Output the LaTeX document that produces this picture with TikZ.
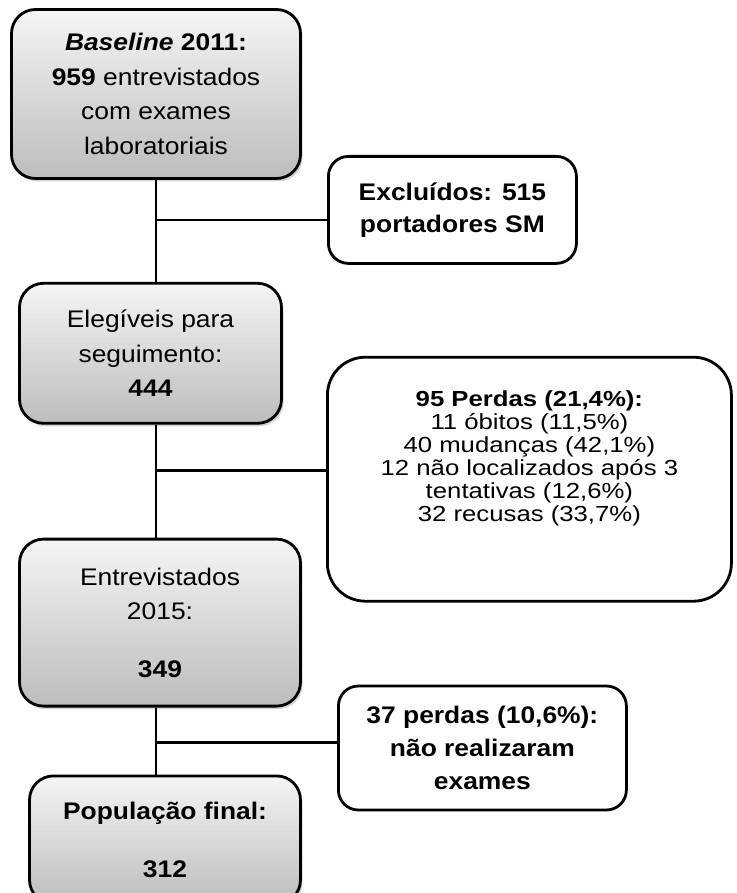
\documentclass[tikz,border=0pt]{standalone}
\usepackage{fontspec}
\setmainfont{Liberation Sans}[FakeStretch=1.1]
\newfontfamily\widefont{Liberation Sans}[FakeStretch=1.18]
\usetikzlibrary{positioning,shadows,calc}

\begin{document}
\begin{tikzpicture}[
  x=1pt, y=1pt,
  stage/.style={draw, line width=2.8pt, rounded corners=24pt, align=center, inner sep=0pt,
    top color=black!4, bottom color=black!26,
    drop shadow={opacity=0.35, shadow xshift=2pt, shadow yshift=-3pt},
    font=\fontsize{24}{34.5}\selectfont},
  note/.style={draw, line width=2.8pt, rounded corners=20pt, align=center, inner sep=0pt,
    fill=white, font=\bfseries\fontsize{24}{32}\selectfont},
  link/.style={line width=2.5pt}
]
  \useasboundingbox (0,0) rectangle (736,-893);

  % main column
  \node[stage, minimum width=289pt, minimum height=169pt] (base) at (156,-94)
    {\textbf{\textit{Baseline}} \textbf{2011:}\\ \textbf{959} entrevistados\\ com exames\\ laboratoriais};
  \node[stage, below=102pt of base, xshift=-5.5pt, minimum width=262pt, minimum height=140pt] (eleg)
    {Elegíveis para\\ seguimento:\\ \textbf{444}};
  \node[stage, below=113pt of eleg, xshift=9.5pt, minimum width=281pt, minimum height=167pt] (entrev)
    {Entrevistados\\ 2015:\\[23pt] \textbf{349}};
  \node[stage, below=67pt of entrev, xshift=5pt, minimum width=271pt, minimum height=128pt] (final)
    {\textbf{População final:}\\[23pt] \textbf{312}};

  \draw[link] (base.south) -- (base.south |- eleg.north);
  \draw[link] (base.south |- eleg.south) -- (base.south |- entrev.north);
  \draw[link] (base.south |- entrev.south) -- (base.south |- final.north);

  % branches
  \coordinate (j1) at ($(base.south)+(0,-40)$);
  \coordinate (j2) at ($(base.south |- eleg.south)+(0,-46)$);
  \coordinate (j3) at ($(base.south |- entrev.south)+(0,-35)$);

  \node[note, right=171pt of j1, yshift=10pt, minimum width=248pt, minimum height=107pt] (excl)
    {Excluídos: 515\\ portadores SM};
  \node[note, right=170pt of j2, yshift=-8.5pt, minimum width=404pt, minimum height=244pt,
    rounded corners=38pt, font=\widefont\fontsize{21.8}{23}\selectfont] (perdas)
    {\textbf{95 Perdas (21,4\%):}\\ 11 óbitos (11,5\%)\\ 40 mudanças (42,1\%)\\
     12 não localizados após 3\\ tentativas (12,6\%)\\ 32 recusas (33,7\%)\\[24pt]\mbox{}};
  \node[note, right=181pt of j3, yshift=-5.5pt, minimum width=288pt, minimum height=124pt,
    font=\bfseries\fontsize{24}{33}\selectfont] (exam)
    {37 perdas (10,6\%):\\ não realizaram\\ exames};

  \draw[link] (j1) -- (excl.west |- j1);
  \draw[link] (j2) -- (perdas.west |- j2);
  \draw[link] (j3) -- (exam.west |- j3);
\end{tikzpicture}
\end{document}
